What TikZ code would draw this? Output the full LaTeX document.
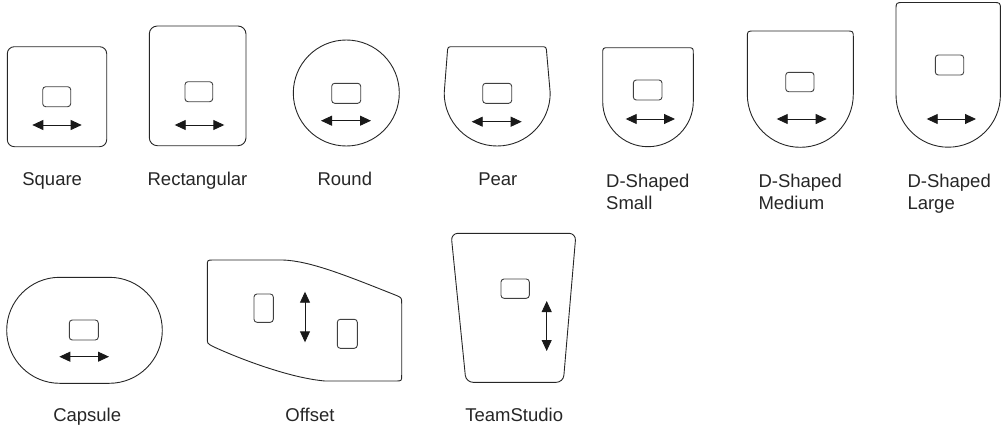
\documentclass[tikz,border=0pt]{standalone}
\usepackage{fontspec}
\setmainfont{Liberation Sans}
\usetikzlibrary{arrows.meta}
\tikzset{
  outline/.style={draw=black!85, line width=0.9pt},
  knob/.style={draw=black!75, line width=0.9pt, rounded corners=3pt},
  dbl/.style={line width=0.9pt, draw=black!90,
    {Triangle[length=11pt,width=10pt]}-{Triangle[length=11pt,width=10pt]}},
  lbl/.style={text=black!85, inner sep=0pt, font=\fontsize{18.5}{22.5}\selectfont},
}
\begin{document}
\begin{tikzpicture}[x=1pt,y=-1pt]
\useasboundingbox (0,0) rectangle (1001,431);

% ---------- Square
\draw[outline, rounded corners=7pt] (7.3,46.7) rectangle (106.7,146.7);
\draw[knob] (42.7,86.7) rectangle (70.7,106.7);
\draw[dbl] (32.3,125) -- (81.7,125);
\node[lbl, anchor=base] (lsq) at (52.2,185) {Square};

% ---------- Rectangular
\draw[outline, rounded corners=8pt] (149.3,26) rectangle (246,145.7);
\draw[knob] (185,81.7) rectangle (212.7,101.7);
\draw[dbl] (174.7,125) -- (224.3,125);
\node[lbl, anchor=base] (lre) at (197.5,185) {Rectangular};

% ---------- Round
\draw[outline] (346.3,93) circle[radius=53];
\draw[knob] (331.7,83.3) rectangle (360.7,103.3);
\draw[dbl] (321,120.7) -- (371,120.7);
\node[lbl, anchor=base] (lro) at (344.8,185) {Round};

% ---------- Pear
\draw[outline] (444.2,93) arc[start angle=180, end angle=0, radius=53]
  -- (546.7,53) .. controls (546.3,46.7) .. (540.7,46.7)
  -- (453.3,46.7) .. controls (447.7,46.7) .. (447.3,53) -- cycle;
\draw[knob] (482.7,83.3) rectangle (511.7,103.3);
\draw[dbl] (471.7,121.7) -- (521.7,121.7);
\node[lbl, anchor=base] (lpe) at (497.8,185) {Pear};

% ---------- D-Shaped Small
\draw[outline] (693.3,101.4) arc[start angle=0, end angle=180, radius=45.3]
  -- (602.7,54) .. controls (602.7,47.7) .. (609,47.7)
  -- (687,47.7) .. controls (693.3,47.7) .. (693.3,54) -- cycle;
\draw[knob] (633.3,80) rectangle (662,100);
\draw[dbl] (625.7,119) -- (675,119);
\node[lbl, anchor=base west, align=left] (lds) at (606,209.5) {D-Shaped\\Small};

% ---------- D-Shaped Medium
\draw[outline] (853.3,94.3) arc[start angle=0, end angle=180, radius=53]
  -- (747.3,38) .. controls (747.3,31) .. (754.3,31)
  -- (846.3,31) .. controls (853.3,31) .. (853.3,38) -- cycle;
\draw[knob] (785.7,72.3) rectangle (814,91.7);
\draw[dbl] (776.7,119) -- (826.7,119);
\node[lbl, anchor=base west, align=left] (ldm) at (758.3,209.5) {D-Shaped\\Medium};

% ---------- D-Shaped Large
\draw[outline] (1000.4,95) arc[start angle=0, end angle=180, radius=52.2]
  -- (896,10) .. controls (896,2.5) .. (903.5,2.5)
  -- (992.9,2.5) .. controls (1000.4,2.5) .. (1000.4,10) -- cycle;
\draw[knob] (935.3,55) rectangle (963.7,75);
\draw[dbl] (926.7,119) -- (976,119);
\node[lbl, anchor=base west, align=left] (ldl) at (907.3,209.5) {D-Shaped\\Large};

% ---------- Capsule
\draw[outline, rounded corners=53pt] (6.7,277.3) rectangle (162.3,383.3);
\draw[knob] (69.3,320) rectangle (98.3,340);
\draw[dbl] (59.3,356.7) -- (109,356.7);
\node[lbl, anchor=base] (lca) at (87.2,421.5) {Capsule};

% ---------- Offset
\draw[outline] (207.3,266) .. controls (207.3,260) .. (213.3,260)
  -- (283,260) .. controls (310,261) and (345,275) .. (396.5,295.5)
  .. controls (401.7,297.8) .. (401.7,303.5)
  -- (401.7,375) .. controls (401.7,381) .. (395.7,381)
  -- (325,381) .. controls (290,378) and (240,359) .. (213,346.5)
  .. controls (207.3,343.5) .. (207.3,338) -- cycle;
\draw[knob] (254,294) rectangle (273.3,322.3);
\draw[knob] (337.3,319.3) rectangle (357.3,348.3);
\draw[dbl] (305,291.7) -- (305,342.3);
\node[lbl, anchor=base] (lof) at (310,421.5) {Offset};

% ---------- TeamStudio
\draw[outline, rounded corners=7pt] (451,233.3) -- (576,233.3) -- (563.3,382.3) -- (466,382.3) -- cycle;
\draw[knob] (501,279) rectangle (529.3,298.3);
\draw[dbl] (546.7,301) -- (546.7,351);
\node[lbl, anchor=base] (lts) at (514.2,421.5) {TeamStudio};
\end{tikzpicture}
\end{document}
